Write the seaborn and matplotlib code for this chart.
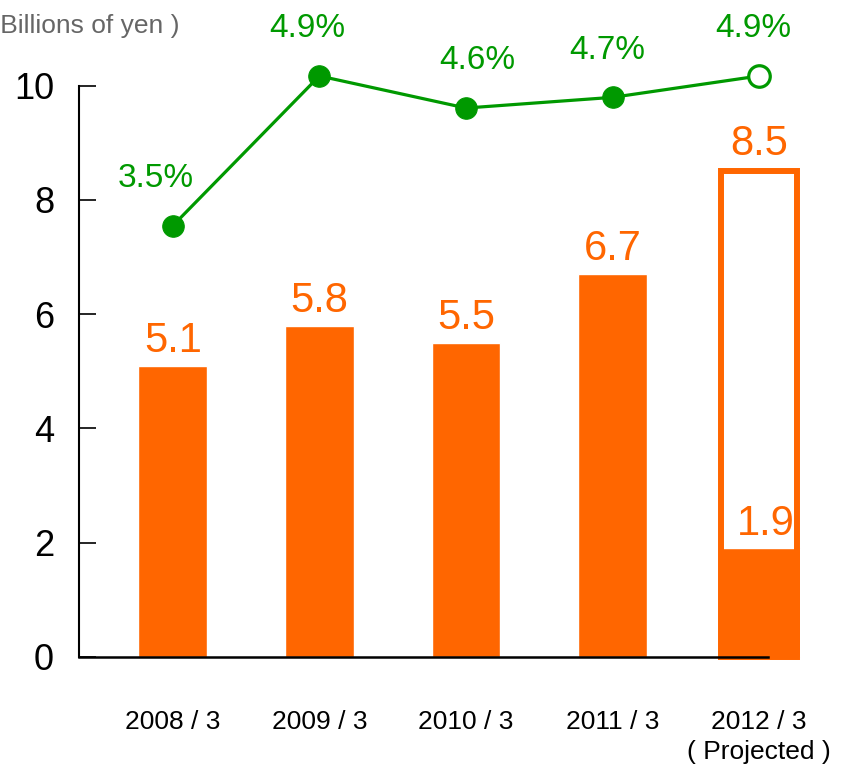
import matplotlib
matplotlib.use("Agg")
import matplotlib.pyplot as plt
import seaborn as sns

# data
periods = ["2008 / 3", "2009 / 3", "2010 / 3", "2011 / 3", "2012 / 3\n( Projected )"]
amount = [5.1, 5.8, 5.5, 6.7, 1.9]        # filled bars (2012 = first half actual)
projected = 8.5                           # 2012 full-year projection (hollow bar)
margin = [3.5, 4.9, 4.6, 4.7, 4.9]        # %
pct_labels = ["3.5%", "4.9%", "4.6%", "4.7%", "4.9%"]

orange = "#FF6600"
green = "#009900"

sns.set_style("white")
plt.rcParams["font.family"] = ["Liberation Sans", "DejaVu Sans"]
plt.rcParams["text.color"] = "black"
plt.rcParams["xtick.color"] = "black"
plt.rcParams["ytick.color"] = "black"

fig = plt.figure(figsize=(8.48, 7.65), dpi=100)
ax = fig.add_axes([0.0932, 0.1412, 0.9057, 0.8366])

sns.barplot(x=periods, y=amount, color=orange, saturation=1, width=0.47, ax=ax)
# last bar is a bit wider
last = ax.patches[-1]
last.set_x(4 - 0.28)
last.set_width(0.56)
last.set_clip_on(False)
ax.bar(4, projected, width=0.52, fill=False, edgecolor=orange, linewidth=4.3, clip_on=False)

for i, v in enumerate(amount[:4]):
    ax.annotate(f"{v}", (i, v), xytext=(0, 10), textcoords="offset points",
                ha="center", va="baseline", fontsize=30, color=orange)
ax.annotate(f"{projected}", (4, projected), xytext=(0, 12), textcoords="offset points",
            ha="center", va="baseline", fontsize=30, color=orange)
ax.annotate(f"{amount[4]}", (4, amount[4]), xytext=(5, 10), textcoords="offset points",
            ha="center", va="baseline", fontsize=30, color=orange)

ax.set_ylim(0, 11.2)
ax.set_yticks([0, 2, 4, 6, 8, 10])
ax.set_xlim(-0.64, 4.6)
for s in ["top", "right"]:
    ax.spines[s].set_visible(False)
ax.spines["left"].set_bounds(0, 10)
ax.spines["bottom"].set_bounds(-0.64, 4.06)
ax.spines["left"].set_linewidth(1.5)
ax.spines["bottom"].set_linewidth(1.8)
ax.spines["left"].set_color("black")
ax.spines["bottom"].set_color("black")
ax.tick_params(axis="y", direction="in", length=12, width=1.2, pad=18, labelsize=26,
               left=True, labelcolor="black")
ax.tick_params(axis="x", length=0, pad=38, labelsize=19, labelcolor="black")
for t in ax.get_xticklabels():
    t.set_linespacing(1.35)
ax.set_xlabel("")
ax.set_ylabel("")

# margin line on a hidden twin axis (primary = 1 + 1.871 * pct)
ax2 = ax.twinx()
ax2.set_ylim((0 - 1.0) / 1.871, (11.2 - 1.0) / 1.871)
xpos = list(range(len(margin)))
sns.lineplot(x=xpos, y=margin, ax=ax2, color=green, linewidth=2.3, marker="o",
             markersize=15.5, markeredgecolor=green, clip_on=False)
ax2.plot(xpos[-1], margin[-1], "o", mfc="white", mec=green, mew=2.3, ms=15.5, clip_on=False)
label_dx = [-12, -9, 8, -4, -4]
for x, m, lab, dx in zip(xpos, margin, pct_labels, label_dx):
    ax2.annotate(lab, (x, m), xytext=(dx, 34), textcoords="offset points",
                 ha="center", va="center", fontsize=24, color=green)
ax2.set_xlim(-0.64, 4.6)
ax2.set_axis_off()

fig.text(179 / 848, 1 - 26 / 765, "( Billions of yen )", ha="right", va="center",
         fontsize=19, color="#666666")

fig.savefig("out.png", dpi=100)
